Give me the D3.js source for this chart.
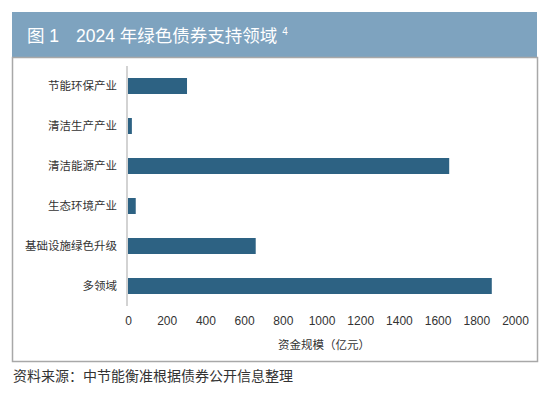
<!DOCTYPE html>
<html>
<head>
<meta charset="utf-8">
<script src="https://cdn.jsdelivr.net/npm/d3@7"></script>
<style>
  body { margin: 0; background: #fff; }
  svg { display: block; font-family: "Liberation Sans", "Noto Sans CJK SC", sans-serif; }
</style>
</head>
<body>
<div id="chart"></div>
<script>
// data (亿元)
var categories = ["节能环保产业", "清洁生产产业", "清洁能源产业", "生态环境产业", "基础设施绿色升级", "多领域"];
var values = [305, 20, 1660, 40, 660, 1880];
var xTicks = [0, 200, 400, 600, 800, 1000, 1200, 1400, 1600, 1800, 2000];

var svg = d3.select("#chart").append("svg")
    .attr("width", 550)
    .attr("height", 395);

// title band
svg.append("rect")
    .attr("x", 12).attr("y", 12)
    .attr("width", 525).attr("height", 45)
    .attr("fill", "#7ea3bf");

var title = svg.append("text")
    .attr("y", 42)
    .attr("fill", "#fff")
    .attr("font-size", "17.5px")
    .attr("font-family", "'Liberation Sans', 'Noto Sans CJK SC', sans-serif");
title.append("tspan").attr("x", 27).text("图 1");
title.append("tspan").attr("x", 76).text("2024 年绿色债券支持领域 ");
title.append("tspan")
    .attr("font-size", "10px")
    .attr("dy", -7)
    .text("4");

// chart box
svg.append("rect")
    .attr("x", 12.5).attr("y", 57.5)
    .attr("width", 525).attr("height", 304)
    .attr("fill", "#fff")
    .attr("stroke", "#a8a8a8")
    .attr("stroke-width", 1.5);

var x = d3.scaleLinear().domain([0, 2000]).range([128, 515]);
var y = d3.scaleBand().domain(categories).range([66, 306]).paddingInner(0.6).paddingOuter(0.3);

// bars
svg.append("g")
  .selectAll("rect")
  .data(categories)
  .enter()
  .append("rect")
    .attr("x", x(0))
    .attr("y", d => y(d))
    .attr("width", (d, i) => x(values[i]) - x(0))
    .attr("height", y.bandwidth())
    .attr("fill", "#2d6283");

// y axis line
svg.append("line")
    .attr("x1", 127).attr("x2", 127)
    .attr("y1", 66).attr("y2", 306)
    .attr("stroke", "#c4c4c4")
    .attr("stroke-width", 1.5);

// category labels
var yAxis = svg.append("g")
    .attr("transform", "translate(127,0)")
    .call(d3.axisLeft(y).tickSize(0).tickPadding(10));
yAxis.select(".domain").remove();
yAxis.selectAll("text")
    .attr("font-size", "11.5px")
    .attr("font-family", "'Noto Sans CJK SC', sans-serif")
    .attr("fill", "#333");

// x axis labels
var xAxis = svg.append("g")
    .attr("transform", "translate(0,310)")
    .call(d3.axisBottom(x).tickValues(xTicks).tickSize(0).tickPadding(6).tickFormat(d3.format("d")));
xAxis.select(".domain").remove();
xAxis.selectAll("text")
    .attr("font-size", "12px")
    .attr("fill", "#333");

svg.append("text")
    .attr("x", 324).attr("y", 349)
    .attr("text-anchor", "middle")
    .attr("font-size", "11.5px")
    .attr("font-family", "'Noto Sans CJK SC', sans-serif")
    .attr("fill", "#333")
    .text("资金规模（亿元）");

// source note
svg.append("text")
    .attr("x", 13).attr("y", 381)
    .attr("font-size", "14px")
    .attr("font-family", "'Noto Sans CJK SC', sans-serif")
    .attr("fill", "#333")
    .text("资料来源：中节能衡准根据债券公开信息整理");
</script>
</body>
</html>
